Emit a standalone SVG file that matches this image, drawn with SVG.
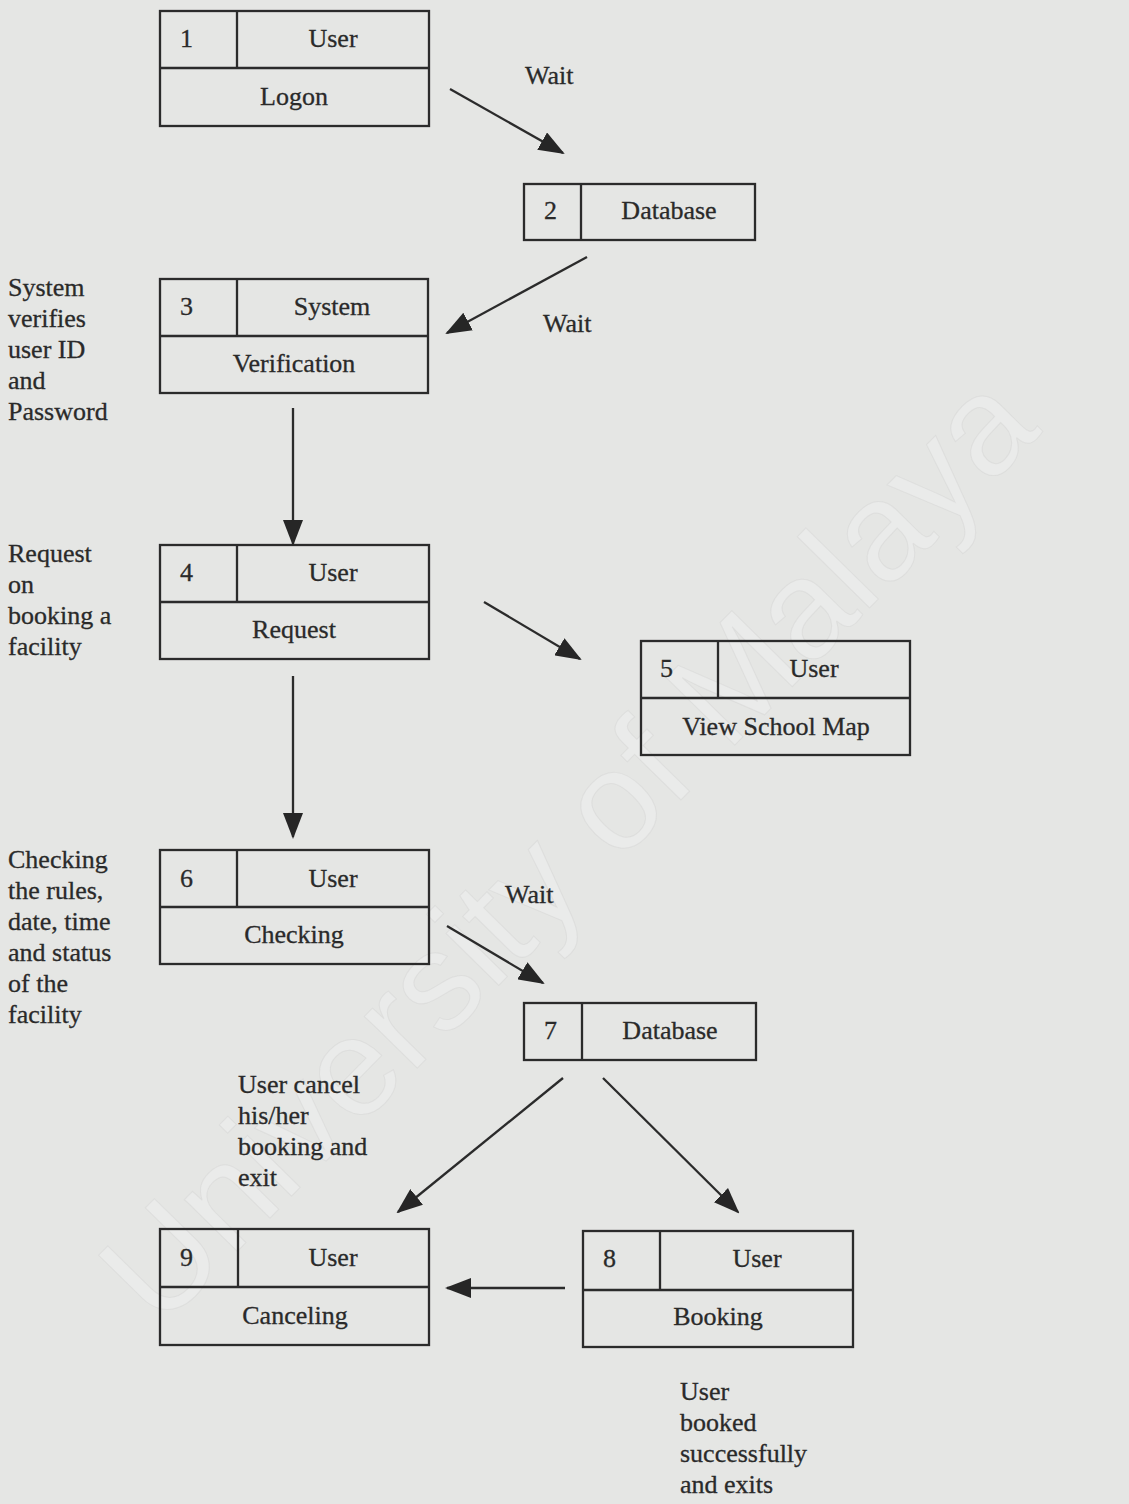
<svg xmlns="http://www.w3.org/2000/svg" width="1129" height="1504" viewBox="0 0 1129 1504">
<style>
.box{fill:none;stroke:#2b2b2b;stroke-width:2.3}
.t{font-family:"Liberation Serif","Times New Roman",serif;font-size:26px;fill:#2a2a2a;stroke:#2a2a2a;stroke-width:0.3}
.c{text-anchor:middle}
.ln{stroke:#2b2b2b;stroke-width:2.3;fill:none;marker-end:url(#ah)}
.wm{font-family:"Liberation Sans",Arial,sans-serif;font-size:140px;fill:#ffffff;fill-opacity:0.22;stroke:#cfcfcf;stroke-opacity:0.4;stroke-width:1}
</style>
<defs>
<marker id="ah" markerUnits="userSpaceOnUse" markerWidth="26" markerHeight="20" refX="24" refY="10" orient="auto">
<path d="M0,0 L26,10 L0,20 Z" fill="#262626"/>
</marker>
</defs>
<rect width="1129" height="1504" fill="#e5e6e4"/>
<text class="wm" transform="translate(575,855) rotate(-45.5)" text-anchor="middle" dominant-baseline="middle">University of Malaya</text>

<g id="node1">
<rect class="box" x="160" y="11" width="269" height="115"/>
<line class="box" x1="160" y1="68" x2="429" y2="68"/>
<line class="box" x1="237" y1="11" x2="237" y2="68"/>
<text class="t" x="180" y="47">1</text>
<text class="t c" x="333" y="47">User</text>
<text class="t c" x="294" y="105">Logon</text>
</g>
<g id="node2">
<rect class="box" x="524" y="184" width="231" height="56"/>
<line class="box" x1="581" y1="184" x2="581" y2="240"/>
<text class="t" x="544" y="219">2</text>
<text class="t c" x="669" y="219">Database</text>
</g>
<g id="node3">
<rect class="box" x="160" y="279" width="268" height="114"/>
<line class="box" x1="160" y1="336" x2="428" y2="336"/>
<line class="box" x1="237" y1="279" x2="237" y2="336"/>
<text class="t" x="180" y="315">3</text>
<text class="t c" x="332" y="315">System</text>
<text class="t c" x="294" y="372">Verification</text>
</g>
<g id="node4">
<rect class="box" x="160" y="545" width="269" height="114"/>
<line class="box" x1="160" y1="602" x2="429" y2="602"/>
<line class="box" x1="237" y1="545" x2="237" y2="602"/>
<text class="t" x="180" y="581">4</text>
<text class="t c" x="333" y="581">User</text>
<text class="t c" x="294" y="638">Request</text>
</g>
<g id="node5">
<rect class="box" x="641" y="641" width="269" height="114"/>
<line class="box" x1="641" y1="698" x2="910" y2="698"/>
<line class="box" x1="718" y1="641" x2="718" y2="698"/>
<text class="t" x="660" y="677">5</text>
<text class="t c" x="814" y="677">User</text>
<text class="t c" x="776" y="735">View School Map</text>
</g>
<g id="node6">
<rect class="box" x="160" y="850" width="269" height="114"/>
<line class="box" x1="160" y1="907" x2="429" y2="907"/>
<line class="box" x1="237" y1="850" x2="237" y2="907"/>
<text class="t" x="180" y="887">6</text>
<text class="t c" x="333" y="887">User</text>
<text class="t c" x="294" y="943">Checking</text>
</g>
<g id="node7">
<rect class="box" x="524" y="1003" width="232" height="57"/>
<line class="box" x1="582" y1="1003" x2="582" y2="1060"/>
<text class="t" x="544" y="1039">7</text>
<text class="t c" x="670" y="1039">Database</text>
</g>
<g id="node8">
<rect class="box" x="583" y="1231" width="270" height="116"/>
<line class="box" x1="583" y1="1290" x2="853" y2="1290"/>
<line class="box" x1="660" y1="1231" x2="660" y2="1290"/>
<text class="t" x="603" y="1267">8</text>
<text class="t c" x="757" y="1267">User</text>
<text class="t c" x="718" y="1325">Booking</text>
</g>
<g id="node9">
<rect class="box" x="160" y="1229" width="269" height="116"/>
<line class="box" x1="160" y1="1287" x2="429" y2="1287"/>
<line class="box" x1="238" y1="1229" x2="238" y2="1287"/>
<text class="t" x="180" y="1266">9</text>
<text class="t c" x="333" y="1266">User</text>
<text class="t c" x="295" y="1324">Canceling</text>
</g>

<g id="connectors">
<line class="ln" x1="450" y1="89" x2="563" y2="153"/>
<line class="ln" x1="587" y1="257" x2="447" y2="333"/>
<line class="ln" x1="293" y1="408" x2="293" y2="544"/>
<line class="ln" x1="484" y1="602" x2="580" y2="659"/>
<line class="ln" x1="293" y1="676" x2="293" y2="837"/>
<line class="ln" x1="447" y1="926" x2="543" y2="983"/>
<line class="ln" x1="563" y1="1078" x2="398" y2="1212"/>
<line class="ln" x1="603" y1="1078" x2="738" y2="1212"/>
<line class="ln" x1="565" y1="1288" x2="447" y2="1288"/>
</g>

<g id="labels">
<text class="t" x="525" y="84">Wait</text>
<text class="t" x="543" y="332">Wait</text>
<text class="t" x="505" y="903">Wait</text>
<text class="t"><tspan x="8" y="296">System</tspan><tspan x="8" y="327">verifies</tspan><tspan x="8" y="358">user ID</tspan><tspan x="8" y="389">and</tspan><tspan x="8" y="420">Password</tspan></text>
<text class="t"><tspan x="8" y="562">Request</tspan><tspan x="8" y="593">on</tspan><tspan x="8" y="624">booking a</tspan><tspan x="8" y="655">facility</tspan></text>
<text class="t"><tspan x="8" y="868">Checking</tspan><tspan x="8" y="899">the rules,</tspan><tspan x="8" y="930">date, time</tspan><tspan x="8" y="961">and status</tspan><tspan x="8" y="992">of the</tspan><tspan x="8" y="1023">facility</tspan></text>
<text class="t"><tspan x="238" y="1093">User cancel</tspan><tspan x="238" y="1124">his/her</tspan><tspan x="238" y="1155">booking and</tspan><tspan x="238" y="1186">exit</tspan></text>
<text class="t"><tspan x="680" y="1400">User</tspan><tspan x="680" y="1431">booked</tspan><tspan x="680" y="1462">successfully</tspan><tspan x="680" y="1493">and exits</tspan></text>
</g>
</svg>
